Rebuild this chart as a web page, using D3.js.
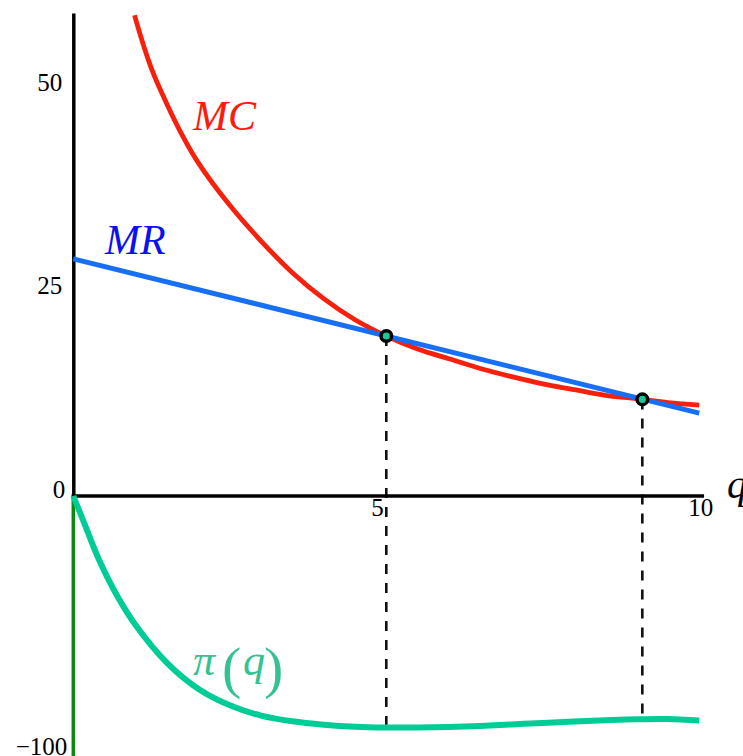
<!DOCTYPE html>
<html><head><meta charset="utf-8">
<script src="https://cdn.jsdelivr.net/npm/d3@7"></script>
<style>
html,body{margin:0;padding:0;background:#fff;overflow:hidden}
svg text{font-family:"Liberation Serif","Times New Roman",serif}
</style>
</head><body>
<svg id="c" width="743" height="756"></svg>
<script>
// ---- data ----
const mcQ      = [0.98, 1.0, 1.25, 1.5, 1.75, 2.0, 2.5, 3.0, 3.5, 4.0, 4.5, 5.0, 5.5, 6.0, 6.5, 7.0, 7.5, 8.0, 8.5, 9.0, 9.5, 10.0];
const mcValues = [59.2, 58.6, 52.6, 48.2, 44.3, 41.0, 35.8, 31.4, 27.5, 24.3, 21.7, 19.7, 18.1, 16.9, 15.7, 14.7, 13.8, 13.1, 12.4, 12.0, 11.5, 11.2];
const mrQ      = [0, 10];
const mrValues = [29.2, 10.2];
const profitQ      = [0, 0.2, 0.4, 0.7, 1.0, 1.5, 2.0, 2.5, 3.0, 3.5, 4.0, 4.5, 5.0, 5.5, 6.0, 6.5, 7.0, 7.5, 8.0, 8.5, 9.0, 9.5, 10.0];
const profitValues = [0, -12, -24, -38.5, -50, -64.5, -74.5, -80.8, -84.8, -87, -88.3, -89.1, -89.4, -89.4, -89.2, -88.8, -88.2, -87.6, -87.1, -86.6, -86.2, -86.1, -86.7];
const eqQ      = [5.0, 9.09];
const eqValues = [19.7, 11.9];
const eqDropTo = [-89.0, -85.5];
const xTicks = [5, 10];
const yTicksTop = [0, 25, 50];
const yTicksBottom = [-100];

// ---- scales ----
const svg = d3.select('#c');
const x = d3.scaleLinear().domain([0, 10]).range([73.3, 699.3]);
const yTop = d3.scaleLinear().domain([0, 59.5]).range([496, 12.9]);
const yBot = d3.scaleLinear().domain([-100, 0]).range([755, 496]);

// dashed drop lines
svg.append('g').selectAll('line').data(eqQ).join('line')
  .attr('x1', d => x(d)).attr('x2', d => x(d))
  .attr('y1', (d, i) => yTop(eqValues[i]))
  .attr('y2', (d, i) => yBot(eqDropTo[i]))
  .attr('stroke', '#111').attr('stroke-width', 2.6).attr('stroke-dasharray', '10,9');

// x axis
const gx = svg.append('g').attr('transform', `translate(0,${yTop(0)})`)
  .call(d3.axisBottom(x).tickValues(xTicks).tickSize(0).tickFormat(d3.format('d')));
gx.attr('font-family', null).attr('font-size', null);
gx.select('.domain').attr('stroke', '#000').attr('stroke-width', 3.5).attr('stroke-linecap', 'square')
  .attr('d', `M${x(0)},0H${x(10) + 3}`);
gx.selectAll('text').style('font-size', '25px').attr('fill', '#000')
  .attr('y', 0).attr('dy', 20)
  .attr('text-anchor', d => d === 5 ? 'end' : 'middle')
  .attr('x', d => d === 5 ? -3 : 1);

// y axis (top part)
const gy = svg.append('g').attr('transform', `translate(${x(0)},0)`)
  .call(d3.axisLeft(yTop).tickValues(yTicksTop).tickSize(0).tickPadding(11));
gy.attr('font-family', null).attr('font-size', null);
gy.select('.domain').attr('stroke', '#000').attr('stroke-width', 3.5);
gy.selectAll('text').style('font-size', '25px').attr('fill', '#000')
  .attr('dy', d => d === 0 ? 1 : 0)
  .attr('x', d => d === 0 ? -8 : -11);

// y axis (bottom part, profit)
const gyb = svg.append('g').attr('transform', `translate(${x(0)},0)`)
  .call(d3.axisLeft(yBot).tickValues(yTicksBottom).tickSize(0).tickPadding(6)
    .tickFormat(d => '\u2212' + Math.abs(d)));
gyb.attr('font-family', null).attr('font-size', null);
gyb.select('.domain').attr('stroke', '#0a8a0a').attr('stroke-width', 3.5)
  .attr('d', `M0,${yBot(0)}V756`);
gyb.selectAll('text').style('font-size', '25px').attr('fill', '#000').attr('dy', -1);

// curves
const lineTop = d3.line().x(d => x(d[0])).y(d => yTop(d[1])).curve(d3.curveCatmullRom.alpha(0.5));
const lineBot = d3.line().x(d => x(d[0])).y(d => yBot(d[1])).curve(d3.curveCatmullRom.alpha(0.5));

svg.append('path').datum(profitQ.map((q, i) => [q, profitValues[i]]))
  .attr('d', lineBot).attr('fill', 'none').attr('stroke', '#00cc96').attr('stroke-width', 6);

svg.append('path').datum(mcQ.map((q, i) => [q, mcValues[i]]))
  .attr('d', lineTop).attr('fill', 'none').attr('stroke', '#f7200c').attr('stroke-width', 4.8);

svg.append('path').datum(mrQ.map((q, i) => [q, mrValues[i]]))
  .attr('d', lineTop).attr('fill', 'none').attr('stroke', '#176ff5').attr('stroke-width', 5);

// equilibrium points
svg.append('g').selectAll('circle').data(eqQ).join('circle')
  .attr('cx', d => x(d)).attr('cy', (d, i) => yTop(eqValues[i]))
  .attr('r', 5.3).attr('fill', '#1ec896').attr('stroke', '#000').attr('stroke-width', 3.5);

// labels
svg.append('text').attr('x', 193).attr('y', 130).text('MC')
  .style('font-style', 'italic').style('font-size', '42px').attr('fill', '#ff1a0a');
svg.append('text').attr('x', 105).attr('y', 254).text('MR')
  .style('font-style', 'italic').style('font-size', '42px').attr('fill', '#0a10f0');
svg.append('text').attr('x', 727).attr('y', 498).text('q')
  .style('font-style', 'italic').style('font-size', '40px').attr('fill', '#000');

const piCol = '#34c292';
const pi = svg.append('g').attr('fill', piCol);
pi.append('text').attr('x', 193).attr('y', 675).style('font-size', '44px').style('font-style', 'italic').text('π');
pi.append('text').attr('x', 222).attr('y', 687).style('font-size', '58px').text('(');
pi.append('text').attr('x', 243).attr('y', 675).style('font-size', '44px').style('font-style', 'italic').text('q');
pi.append('text').attr('x', 264).attr('y', 687).style('font-size', '58px').text(')');
</script>
</body></html>
